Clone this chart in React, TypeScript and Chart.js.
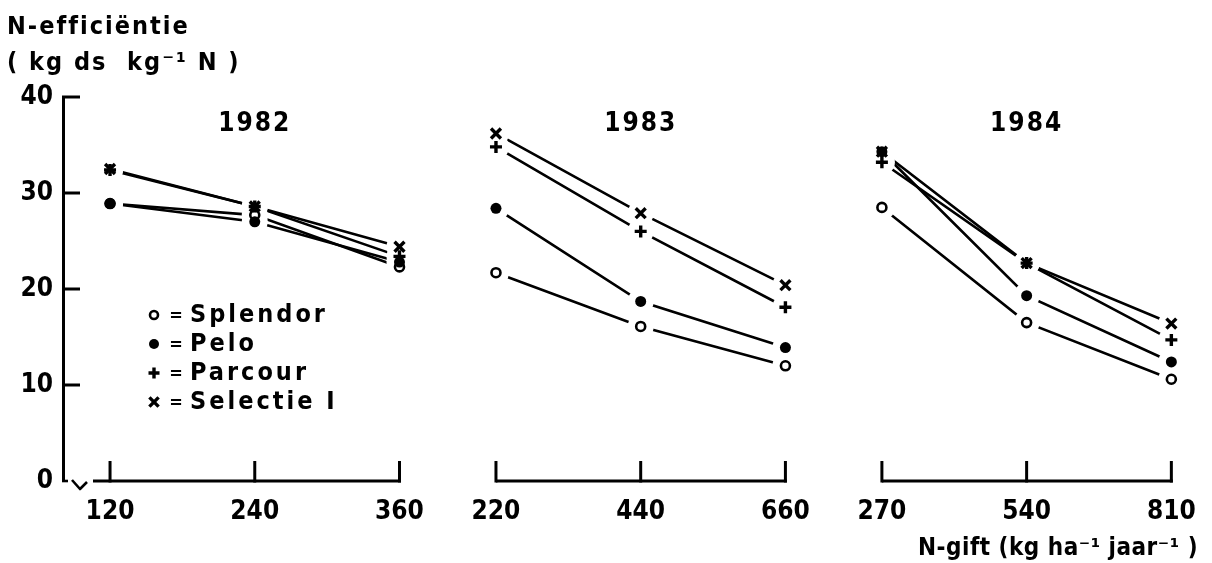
import React, { useEffect, useRef } from 'react';
import { Chart, registerables } from 'chart.js';
import { drawPoint } from 'chart.js/helpers';

Chart.register(...registerables);

// ---- data ----
const years = ['1982', '1983', '1984'];
const doses1982 = [120, 240, 360];
const doses1983 = [220, 440, 660];
const doses1984 = [270, 540, 810];
const seriesNames = ['Splendor', 'Pelo', 'Parcour', 'Selectie I'];
// values per series: 1982 (3), 1983 (3), 1984 (3)
const splendor = [28.9, 27.7, 22.3, 21.7, 16.1, 12.0, 28.5, 16.5, 10.6];
const pelo = [28.9, 27.0, 22.8, 28.4, 18.7, 13.9, 34.3, 19.3, 12.4];
const parcour = [32.4, 28.6, 23.4, 34.8, 26.0, 18.1, 33.2, 22.7, 14.7];
const selectie = [32.5, 28.6, 24.4, 36.2, 27.9, 20.4, 34.3, 22.7, 16.4];
const yTicks = [0, 10, 20, 30, 40];
const yTitle = ['N-efficiëntie', '( kg ds  kg⁻¹ N )'];
const xTitle = 'N-gift (kg ha⁻¹ jaar⁻¹ )';

// ---- layout helpers ----
const PANEL_STEP = 2 + 2 / 3;
const dosesByPanel = [doses1982, doses1983, doses1984];
const pos = (p: number, i: number) => p * PANEL_STEP + i;
const tickPositions: number[] = [];
const tickLabels: string[] = [];
dosesByPanel.forEach((d, p) => d.forEach((v, i) => { tickPositions.push(pos(p, i)); tickLabels.push(String(v)); }));

const FONT = '"DejaVu Sans Condensed", "DejaVu Sans", sans-serif';
const HALO = 13;
const N_SERIES = seriesNames.length;

type Style = { pointStyle: any; radius: number; borderWidth: number; bg: string };
const styles: Style[] = [
  { pointStyle: 'circle', radius: 4.5, borderWidth: 2.6, bg: '#ffffff' },
  { pointStyle: 'circle', radius: 5.5, borderWidth: 0, bg: '#000000' },
  { pointStyle: 'cross', radius: 6, borderWidth: 3.4, bg: '#000000' },
  { pointStyle: 'crossRot', radius: 7, borderWidth: 3.4, bg: '#000000' },
];

function buildPoints(values: number[]) {
  const pts: { x: number; y: number | null }[] = [];
  dosesByPanel.forEach((d, p) => {
    d.forEach((_, i) => pts.push({ x: pos(p, i), y: values[p * 3 + i] }));
    if (p < dosesByPanel.length - 1) pts.push({ x: pos(p, 2) + 0.33, y: null });
  });
  return pts;
}

function drawHalosAndMarkers(chart: any) {
  const { ctx, chartArea } = chart;
  const metas: any[] = [];
  for (let i = N_SERIES; i < 2 * N_SERIES; i++) metas.push(chart.getDatasetMeta(i));
  ctx.save();
  ctx.globalCompositeOperation = 'source-over';
  ctx.globalAlpha = 1;
  ctx.fillStyle = 'rgb(255,255,255)';
  metas.forEach((m: any) => {
    m.data.forEach((el: any) => {
      const px = Number(el.x);
      const py = Number(el.y);
      if (el.skip || !Number.isFinite(px) || !Number.isFinite(py)) return;
      ctx.beginPath();
      ctx.arc(px, py, HALO, 0, Math.PI * 2);
      ctx.closePath();
      ctx.fill();
    });
  });
  ctx.restore();
  metas.forEach((m: any) => {
    m.data.forEach((el: any) => {
      if (!el.skip) {
        ctx.save();
        el.draw(ctx, chartArea);
        ctx.restore();
      }
    });
  });
}

const decorPlugin = {
  id: 'decor',
  beforeDraw(chart: any) {
    chart.ctx.letterSpacing = '0px';
  },
  afterDraw(chart: any) {
    drawHalosAndMarkers(chart);
    const { ctx, chartArea, scales } = chart;
    const x = scales.x;
    const y = scales.y;
    const l = chartArea.left;
    const b = y.getPixelForValue(0);
    ctx.save();
    ctx.strokeStyle = '#000';
    ctx.fillStyle = '#000';
    ctx.lineCap = 'butt';
    ctx.lineJoin = 'round';

    // inward y ticks
    ctx.lineWidth = 3;
    yTicks.forEach((v) => {
      if (v === 0) return;
      const py = y.getPixelForValue(v);
      ctx.beginPath();
      ctx.moveTo(l - 1, py);
      ctx.lineTo(l + 17, py);
      ctx.stroke();
    });

    // axis break
    ctx.lineWidth = 2.6;
    ctx.beginPath();
    ctx.moveTo(l - 1, b);
    ctx.lineTo(l + 5, b);
    ctx.stroke();
    ctx.beginPath();
    ctx.moveTo(l + 9, b - 1);
    ctx.lineTo(l + 17, b + 8);
    ctx.lineTo(l + 24, b + 1);
    ctx.stroke();

    // panel baselines with upward ticks
    ctx.lineWidth = 3;
    dosesByPanel.forEach((d, p) => {
      const x0 = p === 0 ? l + 30 : x.getPixelForValue(pos(p, 0));
      const x1 = x.getPixelForValue(pos(p, d.length - 1));
      ctx.beginPath();
      ctx.moveTo(x0, b);
      ctx.lineTo(x1 + 1.5, b);
      ctx.stroke();
      d.forEach((_, i) => {
        const px = x.getPixelForValue(pos(p, i));
        ctx.beginPath();
        ctx.moveTo(px, b + 1.5);
        ctx.lineTo(px, b - 20);
        ctx.stroke();
      });
    });

    ctx.letterSpacing = '2px';
    ctx.textBaseline = 'middle';

    // panel year labels
    ctx.font = `bold 26px ${FONT}`;
    ctx.textAlign = 'center';
    years.forEach((yr, p) => {
      ctx.fillText(yr, x.getPixelForValue(pos(p, 1)), chartArea.top + 27);
    });

    // y title (top-left)
    ctx.textAlign = 'left';
    ctx.font = `bold 25px ${FONT}`;
    ctx.fillText(yTitle[0], 7, 27);
    ctx.fillText(yTitle[1], 7, 63);

    // x title (bottom-right)
    ctx.letterSpacing = '0.5px';
    ctx.textAlign = 'right';
    ctx.font = `bold 24px ${FONT}`;
    ctx.fillText(xTitle, 1198, 549);

    // legend
    const lx = l + 91;
    const ly0 = chartArea.top + 218;
    seriesNames.forEach((name, k) => {
      const ly = ly0 + k * 29;
      const s = styles[k];
      ctx.save();
      ctx.letterSpacing = '0px';
      ctx.fillStyle = s.bg;
      ctx.strokeStyle = '#000';
      ctx.lineWidth = s.borderWidth;
      drawPoint(ctx, { pointStyle: s.pointStyle, rotation: 0, radius: s.radius - 0.5, borderWidth: s.borderWidth }, lx, ly);
      ctx.restore();
      ctx.letterSpacing = '0px';
      ctx.textAlign = 'center';
      ctx.font = `bold 18px ${FONT}`;
      ctx.fillText('=', lx + 22, ly + 1);
      ctx.letterSpacing = '3px';
      ctx.textAlign = 'left';
      ctx.font = `bold 25px ${FONT}`;
      ctx.fillText(name, lx + 36, ly);
    });

    ctx.restore();
  },
};

export default function App() {
  const ref = useRef<HTMLCanvasElement | null>(null);
  useEffect(() => {
    if (!ref.current) return;
    const seriesValues = [splendor, pelo, parcour, selectie];
    const datasets: any[] = [];
    seriesValues.forEach((vals, k) => {
      datasets.push({
        label: seriesNames[k] + ' line',
        data: buildPoints(vals),
        borderColor: '#000',
        borderWidth: 2.6,
        pointRadius: 0,
        fill: false,
        tension: 0,
        spanGaps: false,
      });
    });
    seriesValues.forEach((vals, k) => {
      const s = styles[k];
      datasets.push({
        label: seriesNames[k],
        data: buildPoints(vals),
        showLine: false,
        pointStyle: s.pointStyle,
        pointRadius: s.radius,
        pointBorderWidth: s.borderWidth,
        pointBorderColor: '#000',
        pointBackgroundColor: s.bg,
      });
    });

    const chart = new Chart(ref.current, {
      type: 'line',
      data: { datasets },
      plugins: [decorPlugin],
      options: {
        animation: false,
        responsive: true,
        maintainAspectRatio: false,
        devicePixelRatio: 1,
        layout: { padding: { left: 8, right: 32, top: 97, bottom: 0 } },
        plugins: { legend: { display: false }, tooltip: { enabled: false }, title: { display: false } },
        scales: {
          x: {
            type: 'linear',
            min: -0.325,
            max: 7.39,
            grid: { display: false, drawTicks: false },
            border: { display: false },
            afterBuildTicks: (scale: any) => {
              scale.ticks = tickPositions.map((v) => ({ value: v }));
            },
            afterFit: (scale: any) => {
              scale.height = 82;
            },
            ticks: {
              autoSkip: false,
              maxRotation: 0,
              padding: 16,
              color: '#000',
              font: { family: FONT, size: 26, weight: 'bold' },
              callback: (value: any) => {
                const idx = tickPositions.findIndex((p) => Math.abs(p - Number(value)) < 1e-6);
                return idx >= 0 ? tickLabels[idx] : '';
              },
            },
          },
          y: {
            type: 'linear',
            min: 0,
            max: 40,
            grid: { display: false, drawTicks: false },
            border: { display: true, color: '#000', width: 3 },
            afterFit: (scale: any) => {
              scale.width = 55;
            },
            ticks: {
              stepSize: 10,
              padding: 10,
              color: '#000',
              font: { family: FONT, size: 26, weight: 'bold' },
            },
          },
        },
      },
    });
    return () => chart.destroy();
  }, []);

  return (
    <div style={{ position: 'absolute', left: 0, top: 0, width: 1212, height: 563, background: '#fff' }}>
      <canvas ref={ref} />
    </div>
  );
}
